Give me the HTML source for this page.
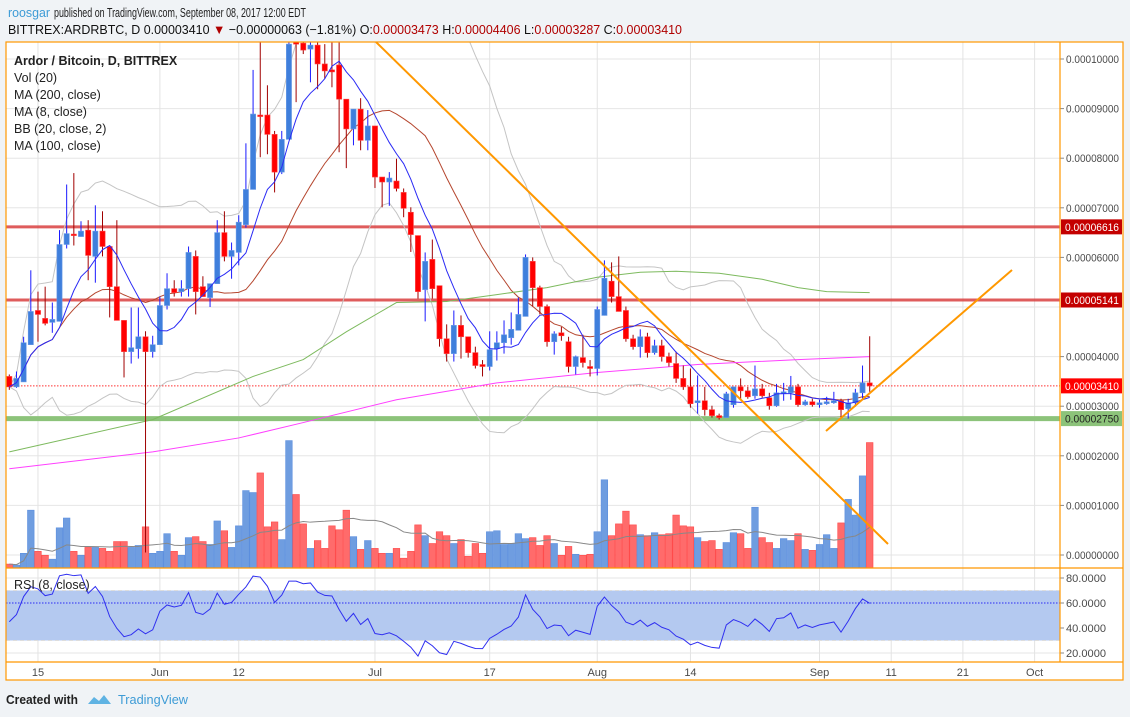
<!DOCTYPE html>
<html><head><meta charset="utf-8">
<style>
html,body{margin:0;padding:0;background:#f0f3f6;}
svg{display:block;font-family:"Liberation Sans",sans-serif;}
</style></head>
<body>
<svg id="chart" width="1130" height="717" viewBox="0 0 1130 717" xmlns="http://www.w3.org/2000/svg">
<defs>
<clipPath id="mainClip"><rect x="6" y="42" width="1054" height="526"/></clipPath>
<clipPath id="rsiClip"><rect x="6" y="568" width="1054" height="94"/></clipPath>
</defs>
<rect x="0" y="0" width="1130" height="717" fill="#f0f3f6"/>
<text x="8" y="17" font-size="13" fill="#3d9bd6" textLength="42" lengthAdjust="spacingAndGlyphs">roosgar</text>
<text x="54" y="17" font-size="13" fill="#222" textLength="252" lengthAdjust="spacingAndGlyphs">published on TradingView.com, September 08, 2017 12:00 EDT</text>
<text x="8" y="34" font-size="13" fill="#111" textLength="674" lengthAdjust="spacingAndGlyphs">BITTREX:ARDRBTC, D  0.00003410 <tspan fill="#b00000">▼</tspan> −0.00000063 (−1.81%) O:<tspan fill="#b00000">0.00003473</tspan> H:<tspan fill="#b00000">0.00004406</tspan> L:<tspan fill="#b00000">0.00003287</tspan> C:<tspan fill="#b00000">0.00003410</tspan></text>
<rect x="6" y="42" width="1117" height="638" fill="#fff"/>
<g id="grid"></g>
<g id="main" clip-path="url(#mainClip)"></g>
<g id="rsi" clip-path="url(#rsiClip)"></g>
<g id="axes"></g>
<g stroke="#ff9800" stroke-width="1.2" fill="none">
<rect x="6" y="42" width="1117" height="638"/>
<line x1="6" y1="568" x2="1123" y2="568"/>
<line x1="6" y1="662" x2="1123" y2="662"/>
<line x1="1060" y1="42" x2="1060" y2="662"/>
</g>
<g font-size="12.5" fill="#222">
<text x="14" y="65" font-weight="bold">Ardor / Bitcoin, D, BITTREX</text>
<text x="14" y="82">Vol (20)</text>
<text x="14" y="99">MA (200, close)</text>
<text x="14" y="116">MA (8, close)</text>
<text x="14" y="133">BB (20, close, 2)</text>
<text x="14" y="150">MA (100, close)</text>
</g>
<text x="14" y="589" font-size="12.5" fill="#222">RSI (8, close)</text>
<g>
<text x="6" y="704" font-size="13" font-weight="bold" fill="#222" textLength="72" lengthAdjust="spacingAndGlyphs">Created with</text>
<path d="M88 704 l6 -7 l5 4 l5 -6 l7 9 z" fill="#5fb3e3"/>
<text x="118" y="704" font-size="13" fill="#3d9bd6" textLength="70" lengthAdjust="spacingAndGlyphs">TradingView</text>
</g>
</svg>
<script>
// prices in units of 1e-5 BTC; day index 0 = May 11 2017
const opens =[3.60,3.39,3.49,4.24,4.93,4.77,4.69,4.71,6.26,6.47,6.42,6.55,6.02,6.53,6.22,5.41,4.73,4.10,4.16,4.40,4.10,4.24,5.03,5.37,5.31,5.37,6.02,5.41,5.19,5.47,6.50,6.02,6.10,6.66,7.37,8.87,8.87,8.48,7.72,8.38,10.60,10.32,10.20,10.28,9.90,9.78,9.88,9.19,8.59,8.99,8.36,8.65,7.62,7.52,7.54,7.31,6.91,6.44,5.35,5.96,5.43,4.36,4.06,4.63,4.40,4.08,3.84,3.80,4.16,4.28,4.38,4.53,4.81,5.92,5.39,5.01,4.30,4.48,4.30,3.80,3.98,3.80,3.76,4.83,5.52,5.21,4.93,4.36,4.20,4.40,4.08,4.22,4.00,3.86,3.56,3.39,3.07,3.11,2.93,2.81,2.77,3.03,3.39,3.31,3.21,3.35,3.17,3.01,3.25,3.27,3.39,3.03,3.09,3.03,3.05,3.07,3.11,2.95,3.07,3.27,3.47];
const closes=[3.39,3.56,4.28,4.91,4.85,4.67,4.75,6.26,6.48,6.44,6.53,6.04,6.53,6.22,5.41,4.73,4.10,4.18,4.40,4.10,4.24,5.03,5.37,5.29,5.37,6.10,5.31,5.21,5.47,6.50,6.02,6.14,6.71,7.37,8.89,8.85,8.48,7.72,8.38,10.30,10.30,10.18,10.28,9.90,9.76,9.74,9.19,8.59,8.99,8.36,8.65,7.62,7.52,7.60,7.39,6.99,6.46,5.31,5.92,5.37,4.36,4.06,4.63,4.40,4.08,3.82,3.80,4.14,4.28,4.44,4.55,4.85,6.00,5.39,5.01,4.30,4.46,4.42,3.80,4.00,3.88,3.76,4.95,5.58,5.21,4.91,4.36,4.20,4.40,4.08,4.22,4.00,3.88,3.56,3.39,3.05,3.11,2.93,2.81,2.77,3.25,3.39,3.31,3.19,3.35,3.21,3.01,3.27,3.29,3.39,3.03,3.09,3.03,3.07,3.09,3.11,2.93,3.07,3.27,3.47,3.41];
const highs =[3.64,3.70,4.40,5.74,5.31,5.41,5.09,6.55,7.47,7.70,6.73,6.75,7.05,6.93,6.22,6.75,4.73,4.99,4.99,4.51,4.42,5.21,5.68,5.54,5.54,6.22,6.14,5.62,5.47,6.75,6.93,6.30,6.85,8.30,9.78,10.40,9.47,8.55,8.55,10.60,10.80,10.45,10.40,10.40,10.30,10.40,10.40,9.19,8.99,9.21,8.97,8.65,7.62,7.72,7.99,7.39,7.01,6.44,6.10,6.36,5.43,4.65,4.93,4.83,4.40,4.20,3.93,4.51,4.51,4.73,4.89,5.19,6.06,6.00,5.43,5.05,4.51,4.60,4.40,4.02,4.44,3.93,5.01,5.94,5.90,6.02,5.01,4.44,4.55,4.48,4.34,4.34,4.08,4.10,3.82,3.76,3.62,3.39,3.01,2.85,3.29,3.39,3.56,3.39,3.82,3.45,3.27,3.45,3.47,3.61,3.45,3.13,3.15,3.13,3.19,3.29,3.15,3.15,3.35,3.82,4.41];
const lows  =[3.33,3.37,3.49,4.24,4.30,4.63,4.48,4.71,6.18,6.24,6.42,5.54,5.49,6.02,4.79,4.73,3.58,3.86,3.96,0.05,3.98,4.24,4.95,5.21,5.21,5.21,4.85,5.21,5.00,5.47,5.92,5.57,5.84,6.60,7.37,8.02,8.08,7.31,7.68,8.38,9.13,10.10,9.53,9.39,9.60,9.43,8.12,7.80,8.26,8.16,8.16,7.40,7.01,7.04,7.33,6.81,6.11,5.17,4.71,5.17,4.20,3.90,3.90,3.96,3.98,3.76,3.60,3.72,3.92,4.06,4.24,4.53,4.81,5.01,4.85,4.20,4.04,4.32,3.68,3.64,3.78,3.60,3.62,4.83,5.09,4.91,4.30,4.14,3.98,3.98,4.04,3.90,3.80,3.47,3.33,2.97,2.85,2.81,2.77,2.73,2.77,2.97,3.15,3.15,3.15,3.17,2.93,2.99,3.11,3.13,2.99,3.01,2.99,2.97,3.03,3.05,2.75,2.75,2.99,3.15,3.29];
const volumes=[4,3,15,59,17,13,9,41,51,17,13,21,21,20,17,27,27,21,23,42,15,17,35,17,13,31,32,27,24,48,38,21,43,79,77,97,42,47,29,130,75,45,20,28,20,43,39,59,32,19,28,20,15,15,20,10,17,44,33,25,37,33,25,29,12,25,15,37,38,24,25,35,30,31,23,33,25,13,22,14,13,14,37,90,33,45,58,44,34,33,36,34,35,54,43,42,31,27,28,19,26,36,35,20,62,31,26,20,30,28,35,19,18,24,34,20,46,70,54,94,128];
const ma100Days=[0,20,34,41,47,54,61,68,75,82,88,93,99,105,110,114,120];
const ma100Vals=[2.08,2.73,3.60,3.94,4.50,5.09,5.11,5.25,5.39,5.60,5.70,5.72,5.68,5.56,5.39,5.31,5.29];
const ma200Days=[0,20,32,41,54,68,82,96,110,120];
const ma200Vals=[1.74,2.08,2.36,2.67,3.13,3.47,3.68,3.84,3.94,4.00];
const priceTicks=[0,1,2,3,4,5,6,7,8,9,10];
const rsiTicks=[20,40,60,80];
const dateLabels=["15","Jun","12","Jul","17","Aug","14","Sep","11","21","Oct"];
const dateDays=[4,21,32,51,67,82,95,113,123,133,143];
const levelLines=[6.616,5.141];
const supportLevel=2.75;
const lastPrice=3.41;

const NS="http://www.w3.org/2000/svg";
function X(i){return 9.3+7.17*i;}
function Y(p){return 555-49.6*p;}
function YV(v){return 568-v*0.98;}
function YR(r){return 678-1.25*r;}
function mk(tag,attrs,parent){const e=document.createElementNS(NS,tag);for(const k in attrs)e.setAttribute(k,attrs[k]);parent.appendChild(e);return e;}
const grid=document.getElementById('grid'),main=document.getElementById('main'),rsiG=document.getElementById('rsi'),axes=document.getElementById('axes');

priceTicks.forEach(t=>{const l=mk('line',{x1:6,x2:1060,y1:Y(t),y2:Y(t),stroke:'#e6e6e6'},grid);

});
rsiTicks.forEach(t=>{const l=mk('line',{x1:6,x2:1060,y1:YR(t),y2:YR(t),stroke:'#e6e6e6'},grid);

});
dateDays.forEach(d=>{const l=mk('line',{x1:X(d),x2:X(d),y1:42,y2:662,stroke:'#e3e3e3'},grid);

});

const n=closes.length;
for(let i=0;i<n;i++){const up=closes[i]>=opens[i];
const r=mk('rect',{x:X(i)-3.3,y:YV(volumes[i]),width:6.6,height:568-YV(volumes[i]),fill:up?'#6f9de0':'#ff6b6b',stroke:up?'#5b8ede':'#ff4a4a','stroke-width':0.6},main);

}
function sma(arr,p,i){let s=0,c=0;for(let k=Math.max(0,i-p+1);k<=i;k++){s+=arr[k];c++;}return s/c;}
let vp=[];for(let i=0;i<n;i++)vp.push(X(i)+','+YV(sma(volumes,20,i)));
const vma=mk('polyline',{points:vp.join(' '),fill:'none',stroke:'#888','stroke-width':1},main);



levelLines.forEach(p=>{const l=mk('line',{x1:6,x2:1060,y1:Y(p),y2:Y(p),stroke:'#d94040','stroke-width':3,'stroke-opacity':0.85},main);

});
const sl=mk('line',{x1:6,x2:1060,y1:Y(supportLevel),y2:Y(supportLevel),stroke:'#8cc37a','stroke-width':5},main);


const lp=mk('line',{x1:6,x2:1060,y1:Y(lastPrice),y2:Y(lastPrice),stroke:'#ff3030','stroke-width':1,'stroke-dasharray':'1.5,1.5'},main);



function line(pts,color,name,w){const e=mk('polyline',{points:pts.join(' '),fill:'none',stroke:color,'stroke-width':w||1},main);

}
let up=[],lo=[],mid=[],m8=[];
for(let i=0;i<n;i++){const m=sma(closes,20,i);let s=0,c=0;for(let k=Math.max(0,i-19);k<=i;k++){s+=(closes[k]-m)**2;c++;}const sd=Math.sqrt(s/c);
up.push(X(i)+','+Y(m+2*sd));lo.push(X(i)+','+Y(m-2*sd));mid.push(X(i)+','+Y(m));m8.push(X(i)+','+Y(sma(closes,8,i)));}
line(up,'#c4c4c4','bb-upper');line(lo,'#c4c4c4','bb-lower');line(mid,'#b5462e','bb-basis');
line(ma100Days.map((d,k)=>X(d)+','+Y(ma100Vals[k])),'#7dba5e','ma100-line');
line(ma200Days.map((d,k)=>X(d)+','+Y(ma200Vals[k])),'#ff40ff','ma200-line');

for(let i=0;i<n;i++){const u=closes[i]>=opens[i];const x=X(i);
const w=mk('line',{x1:x,x2:x,y1:Y(highs[i]),y2:Y(lows[i]),stroke:u?'#1a1aff':'#a00000','stroke-width':1},main);


const t=Math.max(opens[i],closes[i]),b=Math.min(opens[i],closes[i]);
const r=mk('rect',{x:x-2.6,y:Y(t),width:5.2,height:Math.max(1.5,Y(b)-Y(t)),fill:u?'#3f7fdc':'#ff0000',stroke:u?'#6a9ae6':'#ff4040','stroke-width':0.6},main);

}
line(m8,'#2a2af5','ma8-line');

const t1=mk('line',{x1:376,y1:42,x2:888,y2:544,stroke:'#ff9800','stroke-width':2},main);


const t2=mk('line',{x1:826,y1:431,x2:1012,y2:270,stroke:'#ff9800','stroke-width':2},main);



const band=mk('rect',{x:6,y:YR(70),width:1054,height:YR(30)-YR(70),fill:'#b4c9f0'},rsiG);


[70,30].forEach(v=>{const l=mk('line',{x1:6,x2:1060,y1:YR(v),y2:YR(v),stroke:'#ddd','stroke-dasharray':'4,3'},rsiG);

});
const rm=mk('line',{x1:6,x2:1060,y1:YR(60),y2:YR(60),stroke:'#2a2af5','stroke-dasharray':'1.5,1.5'},rsiG);


let ag=0,al=0,rp=[];const P=8;
for(let i=1;i<n;i++){const d=closes[i]-closes[i-1];const g=Math.max(d,0),l=Math.max(-d,0);
if(i===1){ag=0.12;al=0.14;}ag=(ag*(P-1)+g)/P;al=(al*(P-1)+l)/P;const r=al===0?100:100-100/(1+ag/al);
if(i===1)rp.push(X(0)+','+YR(45));rp.push(X(i)+','+YR(r));}
const rl=mk('polyline',{points:rp.join(' '),fill:'none',stroke:'#3030f0','stroke-width':1},rsiG);



function txt(x,y,s,attrs,name){const e=mk('text',Object.assign({x:x,y:y,'font-size':11,fill:'#4a4a4a'},attrs||{}),axes);e.textContent=s;

return e;}
priceTicks.forEach(t=>{if(t===5)return;mk('line',{x1:1060,x2:1064,y1:Y(t),y2:Y(t),stroke:'#888'},axes);
txt(1066,Y(t)+4,'0.000'+String(Math.round(t*1000)).padStart(5,'0'),{textLength:53,lengthAdjust:'spacingAndGlyphs'},'price-tick-label');});
rsiTicks.forEach(t=>{mk('line',{x1:1060,x2:1064,y1:YR(t),y2:YR(t),stroke:'#888'},axes);
txt(1066,YR(t)+4,t.toFixed(4),{textLength:40,lengthAdjust:'spacingAndGlyphs'},'rsi-tick-label');});
dateLabels.forEach((s,k)=>txt(X(dateDays[k]),676,s,{'text-anchor':'middle'},'date-label'));
function tag(p,bg,fg,label){const y=Y(p);const r=mk('rect',{x:1061,y:y-7.5,width:61,height:15,fill:bg},axes);


txt(1065,y+4,label,{fill:fg,textLength:54,lengthAdjust:'spacingAndGlyphs'},'price-tag-label');}
tag(levelLines[0],'#c40000','#fff','0.00006616');
tag(levelLines[1],'#c40000','#fff','0.00005141');
tag(lastPrice,'#ff0000','#fff','0.00003410');
tag(supportLevel,'#8cc37a','#222','0.00002750');
</script>
</body></html>
